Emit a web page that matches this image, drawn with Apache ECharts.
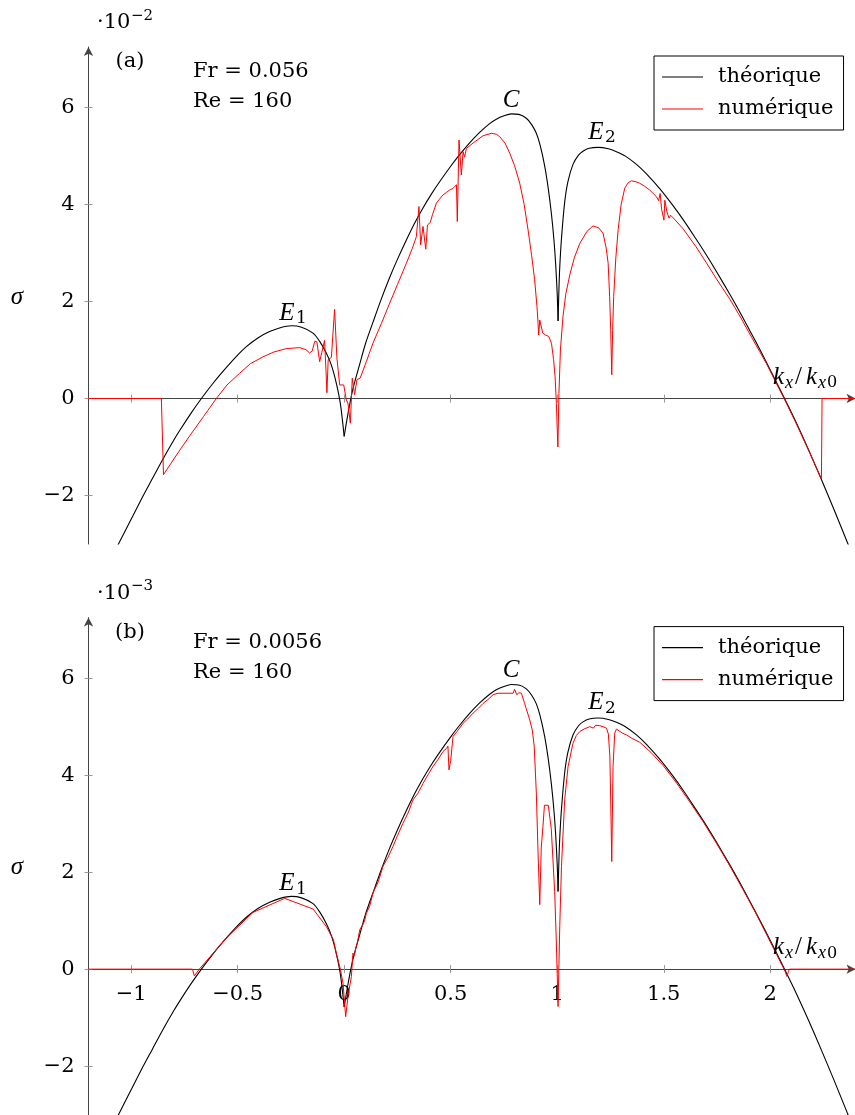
<!DOCTYPE html>
<html><head><meta charset="utf-8">
<script src="https://cdn.jsdelivr.net/npm/echarts@6/dist/echarts.min.js"></script>
<style>html,body{margin:0;padding:0;background:#fff}#c{width:855px;height:1115px}</style>
</head><body><div id="c"></div>
<script>
// ---------- data (k_x/k_x0 , sigma) ----------
const xTicks = [-1, -0.5, 0, 0.5, 1, 1.5, 2];
const yTicks = [-2, 0, 2, 4, 6];
const seriesNames = ['théorique', 'numérique'];
const panelLabels = ['(a)', '(b)'];
const frLabels = ['Fr = 0.056', 'Fr = 0.0056'];
const reLabels = ['Re = 160', 'Re = 160'];
const scaleExp = ['−2', '−3'];

// theoretical curve, three branches (same in both panels, in units of the panel's scale)
const theoE1 = [
 [-1.1,-3.36],[-1.057,-2.98],[-1.0,-2.49],[-0.95,-2.06],[-0.9,-1.65],[-0.851,-1.25],[-0.8,-0.86],
 [-0.772,-0.66],[-0.72,-0.31],[-0.67,0.0],[-0.62,0.29],[-0.569,0.56],[-0.51,0.85],[-0.459,1.07],
 [-0.405,1.25],[-0.35,1.38],[-0.3,1.46],[-0.248,1.50],[-0.2,1.47],[-0.146,1.35],[-0.115,1.18],
 [-0.084,0.94],[-0.06,0.69],[-0.037,0.32],[-0.018,-0.1],[0.0,-0.78]
];
const theoC = [
 [0.0,-0.78],[0.02,-0.26],[0.04,0.18],[0.073,0.71],[0.1,1.13],[0.135,1.57],[0.175,2.06],[0.214,2.5],
 [0.25,2.87],[0.292,3.27],[0.33,3.61],[0.37,3.93],[0.41,4.22],[0.448,4.47],[0.5,4.79],
 [0.542,5.03],[0.59,5.28],[0.636,5.49],[0.68,5.66],[0.714,5.76],[0.75,5.83],[0.785,5.87],
 [0.82,5.86],[0.855,5.78],[0.88,5.65],[0.902,5.47],[0.92,5.22],[0.941,4.8],[0.958,4.33],
 [0.973,3.8],[0.985,3.25],[0.993,2.75],[1.0,2.15],[1.004,1.6]
];
const theoE2 = [
 [1.004,1.6],[1.008,2.25],[1.012,2.72],[1.02,3.3],[1.035,4.05],[1.05,4.47],[1.074,4.83],[1.1,5.02],
 [1.121,5.1],[1.15,5.16],[1.192,5.18],[1.24,5.15],[1.278,5.09],[1.32,5.0],[1.372,4.83],
 [1.42,4.63],[1.481,4.33],[1.54,4.0],[1.591,3.69],[1.65,3.3],[1.7,2.96],[1.75,2.6],
 [1.81,2.15],[1.86,1.76],[1.904,1.4],[1.95,1.02],[2.0,0.59],[2.04,0.24],[2.067,0.0],
 [2.12,-0.48],[2.18,-1.06],[2.24,-1.67],[2.3,-2.3],[2.362,-2.97],[2.4,-3.38]
];
const theoBranches = [theoE1, theoC, theoE2];

// numerical, panel (a)  (×10^-2)
const numericalA = [
 [-1.2,0],[-0.858,0],[-0.848,-1.57],[-0.78,-1.12],[-0.725,-0.77],[-0.66,-0.37],[-0.6,0.0],
 [-0.55,0.28],[-0.491,0.52],[-0.44,0.72],[-0.381,0.86],[-0.33,0.96],[-0.271,1.03],[-0.209,1.05],
 [-0.18,1.01],[-0.162,0.94],[-0.15,0.98],[-0.138,1.18],[-0.128,1.17],[-0.115,0.76],[-0.105,0.95],
 [-0.092,1.20],[-0.085,0.55],[-0.081,0.12],[-0.075,0.8],[-0.06,0.85],[-0.045,1.84],[-0.034,0.83],
 [-0.021,0.28],[-0.002,0.28],[0.01,-0.03],[0.018,-0.1],[0.029,-0.51],[0.038,0.42],[0.049,0.08],
 [0.06,0.39],[0.075,0.42],[0.104,0.76],[0.135,1.14],[0.175,1.55],[0.214,1.97],[0.25,2.35],
 [0.292,2.79],[0.32,3.1],[0.339,3.34],[0.351,3.96],[0.359,3.17],[0.37,3.55],[0.383,3.08],
 [0.391,3.58],[0.404,3.63],[0.415,3.8],[0.433,4.03],[0.445,4.1],[0.464,4.2],[0.48,4.25],
 [0.495,4.3],[0.51,4.33],[0.527,4.41],[0.531,3.65],[0.539,5.33],[0.55,4.61],[0.558,5.09],
 [0.565,4.98],[0.574,5.16],[0.605,5.27],[0.652,5.42],[0.691,5.47],[0.715,5.45],[0.73,5.4],
 [0.755,5.27],[0.777,5.06],[0.8,4.8],[0.824,4.44],[0.845,4.0],[0.863,3.48],[0.88,2.95],
 [0.894,2.45],[0.905,1.9],[0.91,1.55],[0.913,1.31],[0.918,1.62],[0.925,1.58],[0.932,1.35],
 [0.945,1.31],[0.96,1.28],[0.973,1.14],[0.983,0.8],[0.99,0.45],[0.996,-0.1],[1.003,-1.0],
 [1.008,0.1],[1.015,1.0],[1.027,1.69],[1.04,2.15],[1.059,2.55],[1.08,2.9],[1.106,3.2],
 [1.14,3.45],[1.168,3.56],[1.195,3.52],[1.215,3.41],[1.23,3.1],[1.239,2.79],[1.246,2.1],
 [1.251,1.42],[1.256,0.49],[1.26,1.4],[1.265,2.1],[1.275,2.9],[1.286,3.48],[1.3,4.0],
 [1.317,4.34],[1.333,4.45],[1.348,4.49],[1.37,4.47],[1.387,4.44],[1.41,4.38],[1.434,4.3],
 [1.466,4.16],[1.476,4.08],[1.483,4.23],[1.49,3.9],[1.501,3.68],[1.505,4.09],[1.515,3.85],
 [1.525,3.72],[1.532,3.78],[1.55,3.7],[1.591,3.5],[1.65,3.14],[1.7,2.8],[1.75,2.45],
 [1.81,2.05],[1.86,1.68],[1.904,1.33],[1.95,0.97],[1.982,0.72],[2.03,0.3],[2.065,0.0],
 [2.12,-0.5],[2.18,-1.07],[2.24,-1.66],[2.243,0],[2.4,0]
];

// numerical, panel (b)  (×10^-3)
const numericalB = [
 [-1.2,0],[-0.712,0],[-0.703,-0.14],[-0.69,-0.06],[-0.68,0.0],[-0.553,0.64],[-0.428,1.17],
 [-0.279,1.46],[-0.146,1.24],[-0.084,0.88],[-0.05,0.6],[-0.037,0.33],[-0.018,0.0],[-0.005,-0.3],
 [0.007,-0.98],[0.018,-0.56],[0.034,-0.15],[0.041,0.33],[0.048,0.28],[0.055,0.45],[0.062,0.55],
 [0.073,0.81],[0.085,0.9],[0.095,0.98],[0.104,1.15],[0.12,1.3],[0.128,1.28],[0.135,1.57],
 [0.16,1.8],[0.182,2.12],[0.205,2.3],[0.229,2.53],[0.25,2.75],[0.276,3.01],[0.3,3.22],
 [0.323,3.49],[0.345,3.62],[0.37,3.83],[0.395,4.02],[0.417,4.18],[0.44,4.32],[0.464,4.49],
 [0.48,4.55],[0.487,4.6],[0.492,4.11],[0.5,4.3],[0.511,4.8],[0.53,4.9],[0.558,5.07],
 [0.58,5.16],[0.605,5.28],[0.63,5.38],[0.652,5.48],[0.675,5.56],[0.699,5.66],[0.722,5.69],
 [0.76,5.69],[0.793,5.69],[0.8,5.77],[0.81,5.66],[0.82,5.7],[0.832,5.69],[0.847,5.48],
 [0.871,5.14],[0.883,4.93],[0.892,4.6],[0.902,3.63],[0.91,2.4],[0.918,1.33],[0.925,2.5],
 [0.933,2.94],[0.94,3.38],[0.949,3.42],[0.958,3.38],[0.965,3.36],[0.972,2.9],[0.98,2.25],
 [0.988,1.6],[0.996,0.54],[1.004,-0.77],[1.012,0.9],[1.02,2.12],[1.035,3.49],[1.051,4.18],
 [1.074,4.66],[1.09,4.82],[1.106,4.9],[1.13,4.96],[1.153,5.0],[1.17,4.97],[1.18,5.03],
 [1.2,5.02],[1.215,5.0],[1.231,4.97],[1.24,4.85],[1.247,4.4],[1.251,3.49],[1.256,2.22],
 [1.259,3.2],[1.262,4.18],[1.27,4.87],[1.278,4.95],[1.286,4.93],[1.305,4.87],[1.325,4.83],
 [1.355,4.75],[1.387,4.68],[1.44,4.47],[1.497,4.2],[1.56,3.84],[1.622,3.45],[1.685,3.04],
 [1.747,2.6],[1.81,2.13],[1.872,1.64],[1.93,1.17],[1.982,0.72],[2.03,0.3],[2.06,0.04],
 [2.07,-0.05],[2.078,-0.15],[2.085,-0.05],[2.09,0],[2.4,0]
];
const numerical = [numericalA, numericalB];

// ---------- chart ----------
const FONT = '"DejaVu Serif", serif';
const MATH = '"Liberation Serif", serif';
const GRID_TOP = [47, 617.6];
const GRID_H = 497;
const Y_MIN = -3, Y_MAX = 7.25;
const fmt = v => (v < 0 ? '−' + Math.abs(v) : String(v));

const grids = [], xAxes = [], yAxes = [], series = [], legends = [], graphics = [];
for (let g = 0; g < 2; g++) {
  grids.push({ left: 88.5, top: GRID_TOP[g], width: 767, height: GRID_H, containLabel: false, outerBoundsMode: 'none' });
}
// main x axes (0,1): line + outer ticks, on zero
for (let g = 0; g < 2; g++) {
  xAxes.push({
    gridIndex: g, type: 'value', min: -1.2, max: 2.4, position: 'bottom',
    axisLine: { show: true, onZero: true, onZeroAxisIndex: g, symbol: ['none', 'arrow'], symbolSize: [7, 9],
      lineStyle: { color: '#444', width: 1 } },
    axisTick: { show: true, inside: false, length: 4, customValues: xTicks, lineStyle: { color: '#999', width: 1 } },
    axisLabel: { show: false }, splitLine: { show: false }
  });
}
// inner tick x axes (2,3)
for (let g = 0; g < 2; g++) {
  xAxes.push({
    gridIndex: g, type: 'value', min: -1.2, max: 2.4, position: 'bottom',
    axisLine: { show: true, onZero: true, onZeroAxisIndex: g, lineStyle: { color: 'rgba(0,0,0,0)' } },
    axisTick: { show: true, inside: true, length: 4, customValues: xTicks, lineStyle: { color: '#999', width: 1 } },
    axisLabel: { show: false }, splitLine: { show: false }
  });
}
// label-only x axis for panel (b) (4): placed at grid bottom, labels shifted up to the zero line
xAxes.push({
  gridIndex: 1, type: 'value', min: -1.2, max: 2.4, position: 'bottom',
  axisLine: { show: false, onZero: false }, axisTick: { show: false },
  axisLabel: { show: true, customValues: xTicks, formatter: fmt,
    margin: 15 - (0 - Y_MIN) * GRID_H / (Y_MAX - Y_MIN),
    fontFamily: FONT, fontSize: 21, color: '#000' },
  splitLine: { show: false }
});
// main y axes (0,1)
for (let g = 0; g < 2; g++) {
  yAxes.push({
    gridIndex: g, type: 'value', min: Y_MIN, max: Y_MAX, position: 'left',
    axisLine: { show: true, onZero: false, symbol: ['none', 'arrow'], symbolSize: [7, 9],
      lineStyle: { color: '#444', width: 1 } },
    axisTick: { show: true, inside: false, length: 4, customValues: yTicks, lineStyle: { color: '#999', width: 1 } },
    axisLabel: { show: true, customValues: yTicks, formatter: fmt, margin: 14,
      fontFamily: FONT, fontSize: 21, color: '#000' },
    splitLine: { show: false }
  });
}
// inner tick y axes (2,3)
for (let g = 0; g < 2; g++) {
  yAxes.push({
    gridIndex: g, type: 'value', min: Y_MIN, max: Y_MAX, position: 'left',
    axisLine: { show: true, onZero: false, lineStyle: { color: 'rgba(0,0,0,0)' } },
    axisTick: { show: true, inside: true, length: 4, customValues: yTicks, lineStyle: { color: '#999', width: 1 } },
    axisLabel: { show: false }, splitLine: { show: false }
  });
}
for (let g = 0; g < 2; g++) {
  theoBranches.forEach(branch => {
    series.push({
      name: seriesNames[0], type: 'line', xAxisIndex: g, yAxisIndex: g, data: branch,
      showSymbol: false, symbol: 'none', smooth: 0.3,
      lineStyle: { color: '#000', width: 1.1 }, itemStyle: { color: '#000' },
      z: 2, animation: false
    });
  });
  series.push({
    name: seriesNames[1], type: 'line', xAxisIndex: g, yAxisIndex: g, data: numerical[g],
    showSymbol: false, symbol: 'none', lineStyle: { color: '#ff0000', width: 1 }, itemStyle: { color: '#ff0000' },
    z: 3, animation: false
  });
  legends.push({
    data: seriesNames, orient: 'vertical', left: 654, top: GRID_TOP[g] + 9,
    padding: [6, 10, 6, 8], itemGap: 2, itemWidth: 41, itemHeight: 1.2, icon: 'rect',
    borderColor: '#000', borderWidth: 1, borderRadius: 0, backgroundColor: '#fff',
    textStyle: { fontFamily: FONT, fontSize: 21, color: '#000', lineHeight: 30, padding: [0, 0, 0, 10] },
    selectedMode: false
  });
}

function txt(x, y, text, size, family, opt) {
  opt = opt || {};
  const align = opt.align || 'left';
  return {
    type: 'text', x: x, y: y, z: 100, silent: true,
    style: {
      text: text, fill: '#000',
      font: (opt.italic ? 'italic ' : '') + size + 'px ' + family,
      align: align, verticalAlign: 'middle', textAlign: align, textVerticalAlign: 'middle'
    }
  };
}
for (let g = 0; g < 2; g++) {
  const dy = GRID_TOP[g] - GRID_TOP[0];
  graphics.push(txt(97, 23 + dy, '·10', 21, FONT));
  graphics.push(txt(131, 16 + dy, scaleExp[g], 15, FONT));
  graphics.push(txt(130, 62 + dy, panelLabels[g], 21, FONT, { align: 'center' }));
  graphics.push(txt(193, 71.5 + dy, frLabels[g], 21, FONT));
  graphics.push(txt(193, 102 + dy, reLabels[g], 21, FONT));
  graphics.push(txt(17, 297 + dy, 'σ', 25, MATH, { italic: true, align: 'center' }));
  // branch labels
  graphics.push(txt(287, 313 + dy, 'E', 25, MATH, { italic: true, align: 'center' }));
  graphics.push(txt(296, 319 + dy, '1', 17, FONT));
  graphics.push(txt(511, 100 + dy, 'C', 25, MATH, { italic: true, align: 'center' }));
  graphics.push(txt(596, 132 + dy, 'E', 25, MATH, { italic: true, align: 'center' }));
  graphics.push(txt(605, 138 + dy, '2', 17, FONT));
  // axis name k_x / k_x0
  graphics.push(txt(773, 377 + dy, 'k', 25, MATH, { italic: true }));
  graphics.push(txt(785, 383 + dy, 'x', 18, MATH, { italic: true }));
  graphics.push(txt(795, 377 + dy, '/', 25, MATH));
  graphics.push(txt(806, 377 + dy, 'k', 25, MATH, { italic: true }));
  graphics.push(txt(818, 383 + dy, 'x', 18, MATH, { italic: true }));
  graphics.push(txt(827, 383 + dy, '0', 16, FONT));
}

const chart = echarts.init(document.getElementById('c'), null, { renderer: 'canvas' });
chart.setOption({
  animation: false,
  backgroundColor: '#fff',
  grid: grids, xAxis: xAxes, yAxis: yAxes, series: series, legend: legends,
  graphic: { elements: graphics }
});
</script>
</body></html>
